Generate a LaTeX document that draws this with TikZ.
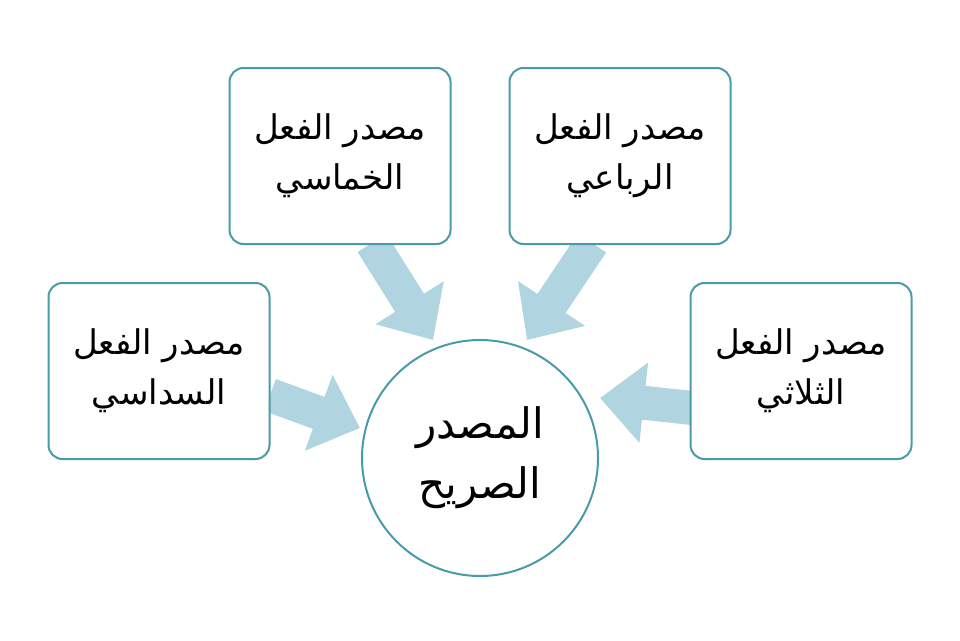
\documentclass[tikz,border=0pt]{standalone}
\usepackage{fontspec}
\setmainfont{DejaVu Sans}
\newfontfamily\arabicfont[Script=Arabic]{DejaVu Sans}
\TeXXeTstate=1
\usetikzlibrary{arrows.meta}
\begin{document}
\begin{tikzpicture}[x=1pt,y=-1pt,
  box/.style={draw=edge, line width=2pt, rounded corners=14pt, fill=white, minimum width=221pt, minimum height=176pt, align=center, font=\arabicfont\fontsize{34}{50}\selectfont},
  bigarrow/.style={draw=arrowblue, line width=34pt, -{Triangle[width=78pt,length=44pt]}}]
\definecolor{arrowblue}{HTML}{B0D4E0}
\definecolor{edge}{HTML}{4A9BA8}
\useasboundingbox (0,0) rectangle (960,640);
\coordinate (a1s) at (372,243); \coordinate (a1e) at (433,340);
\coordinate (a2s) at (592,243); \coordinate (a2e) at (527,340);
\coordinate (a3s) at (270,395); \coordinate (a3e) at (360,428);
\coordinate (a4s) at (692,408); \coordinate (a4e) at (600,398);
\draw[bigarrow] (a1s) -- (a1e);
\draw[bigarrow] (a2s) -- (a2e);
\draw[bigarrow] (a3s) -- (a3e);
\draw[bigarrow] (a4s) -- (a4e);
\node[box] (tl) at (340,156) {\beginR مصدر الفعل\endR\\\beginR الخماسي\endR};
\node[box] (tr) at (620,156) {\beginR مصدر الفعل\endR\\\beginR الرباعي\endR};
\node[box] (l) at (159,371) {\beginR مصدر الفعل\endR\\\beginR السداسي\endR};
\node[box] (r) at (801,371) {\beginR مصدر الفعل\endR\\\beginR الثلاثي\endR};
\node[circle, draw=edge, line width=2pt, fill=white, minimum size=236pt, align=center, font=\arabicfont\fontsize{42}{60}\selectfont] (c) at (480,458) {\beginR المصدر\endR\\\beginR الصريح\endR};
\end{tikzpicture}
\end{document}
